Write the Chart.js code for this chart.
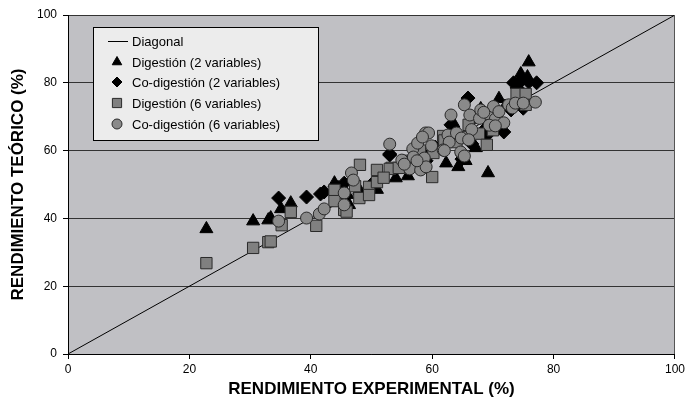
<!DOCTYPE html>
<html>
<head>
<meta charset="utf-8">
<script src="https://cdn.jsdelivr.net/npm/chart.js@4/dist/chart.umd.min.js"></script>
<style>
  html, body { margin: 0; padding: 0; background: #ffffff; }
  #wrap { width: 688px; height: 408px; position: relative; }
</style>
</head>
<body>
<div id="wrap"><canvas id="c" width="688" height="408"></canvas></div>
<script>
// ---- Data ----
const seriesNames = ['Diagonal', 'Digestión (2 variables)', 'Co-digestión (2 variables)', 'Digestión (6 variables)', 'Co-digestión (6 variables)'];
const xTicks = [0, 20, 40, 60, 80, 100];
const yTicks = [0, 20, 40, 60, 80, 100];
const xTitle = 'RENDIMIENTO EXPERIMENTAL (%)';
const yTitle = 'RENDIMIENTO TEÓRICO (%)';

const diagonal = [[0, 0], [100, 100]];

const digestion2 = [
  [22.8,36.9],[30.5,39.2],[33,39.5],[33.4,40.1],[35.1,42.8],[36.7,44.5],[43.9,50.4],[46.3,44],
  [48,48.4],[50.9,48.5],[54,51.9],[56,52.5],[58.5,59.5],[62.3,56.3],[64.3,55.2],[65.5,57],
  [67.2,60.8],[69.2,53.4],[68,72.3],[69.3,71],[71,75.3],[74.6,82.6],[75.7,81.7],[75.9,86.1],
  [63.5,68],[66,64],[72,73],[44.5,49],[46,47]
];
const codigestion2 = [
  [34.7,46],[39.3,46.3],[41.6,47.2],[42.2,47.8],[45.5,50.4],[53,58.7],[53,59],[56,55],[58,58],
  [60.5,61],[63.1,67.6],[64.9,57.5],[65.9,75.5],[66.5,62],[68.5,66],[69,64.5],[70,68],[71.8,65.5],
  [71,69],[73.4,80],[74.6,80.5],[75.9,80.2],[77.2,80],[74,78.5],[75,72.5],[73,72],[66.5,69],
  [62,63],[59,57],[50,50],[47,51]
];
const digestion6 = [
  [22.8,26.8],[30.5,31.3],[33,33],[33.4,33.2],[35.2,38],[36.7,41.9],[40.9,37.8],[43.9,48.4],
  [43.9,45.1],[45.5,42.5],[45.9,42],[48,46],[48.1,55.8],[49.6,49.3],[49.6,46.9],[50.9,54.3],
  [50.9,50.7],[53.3,54.9],[53,54.6],[54.5,54.9],[60,52.2],[60.2,59.3],[61.8,64.3],[64,62.5],
  [66,67.6],[67.7,65],[69,61.7],[62,63],[58,60],[56,57],[73.9,76.7],[75.4,76.7],[75.4,73.5],
  [65.5,64],[70,66],[47.3,49.5],[52,52]
];
const codigestion6 = [
  [34.7,39.2],[39.3,40.1],[41.4,41.3],[42.2,42.8],[45.5,47.5],[45.5,44],[46.7,53.4],[47,51.3],
  [53,61.9],[55,57.2],[56.3,54.6],[56.8,60.5],[57.6,62.2],[56.9,58.1],[58.1,54.3],[58.7,57.8],
  [59,55.2],[58.9,65.2],[59.4,65.2],[59.9,61.4],[58.4,64],[62.6,64.6],[62.8,62.5],[61.8,60.2],
  [63.1,70.5],[64.8,59.3],[64,65.2],[64.8,63.7],[65.3,73.5],[66.2,70.5],[66.5,66.2],[66,63.2],
  [64.7,59.6],[65.3,58.4],[67.8,69.5],[68,72],[69.3,70.8],[70.1,73],[70.4,69.3],[71,71.5],
  [71.8,68.2],[72.6,73.5],[73.2,72.6],[73.7,74],[75,74],[77,74.3],[69.4,67.5],[70.4,67.3],
  [68.5,71.3],[62,60],[57.5,57],[55.4,56]
];

const toXY = arr => arr.map(p => ({ x: p[0], y: p[1] }));

// ---- Styles ----
const FONT = '"Liberation Sans", Arial, Helvetica, sans-serif';
const plotBg = '#c0c0c4';

const plotBackground = {
  id: 'plotBackground',
  beforeDraw(chart) {
    const { ctx, chartArea: a } = chart;
    ctx.save();
    ctx.fillStyle = plotBg;
    ctx.fillRect(a.left, a.top, a.right - a.left, a.bottom - a.top);
    ctx.restore();
  },
  afterDatasetsDraw(chart) {
    const { ctx, chartArea: a } = chart;
    ctx.save();
    ctx.strokeStyle = '#555';
    ctx.lineWidth = 1;
    ctx.beginPath();
    ctx.moveTo(Math.round(a.right) - 0.5, a.top);
    ctx.lineTo(Math.round(a.right) - 0.5, a.bottom);
    ctx.stroke();
    ctx.restore();
  }
};

function legendMarker(ctx, ds, x, y) {
  ctx.save();
  ctx.fillStyle = ds.backgroundColor;
  ctx.strokeStyle = ds.borderColor;
  ctx.lineWidth = ds.borderWidth;
  Chart.helpers.drawPoint(ctx, { pointStyle: ds.pointStyle, radius: ds.legendRadius, borderWidth: ds.borderWidth, rotation: 0 }, x, y);
  ctx.restore();
}

const legendBox = {
  id: 'legendBox',
  afterDraw(chart) {
    const { ctx } = chart;
    const x0 = 93, y0 = 27, w = 225, h = 113;
    ctx.save();
    ctx.fillStyle = '#ececec';
    ctx.fillRect(x0, y0, w, h);
    ctx.strokeStyle = '#000';
    ctx.lineWidth = 1;
    ctx.strokeRect(x0 + 0.5, y0 + 0.5, w, h);
    const rowY = [41, 62, 82, 103, 124];
    const symX = 117, textX = 132;
    ctx.font = '13px ' + FONT;
    ctx.textBaseline = 'middle';
    ctx.textAlign = 'left';
    for (let i = 0; i < seriesNames.length; i++) {
      const y = rowY[i];
      const ds = chart.data.datasets[i];
      if (i === 0) {
        ctx.strokeStyle = '#000';
        ctx.lineWidth = 1;
        ctx.beginPath();
        ctx.moveTo(108, y + 0.5);
        ctx.lineTo(128, y + 0.5);
        ctx.stroke();
      } else {
        legendMarker(ctx, ds, symX, y);
      }
      ctx.fillStyle = '#000';
      ctx.fillText(seriesNames[i], textX, y + 1);
    }
    ctx.restore();
  }
};

const ctx = document.getElementById('c').getContext('2d');
new Chart(ctx, {
  type: 'scatter',
  data: {
    datasets: [
      { label: seriesNames[0], data: toXY(diagonal), type: 'line', showLine: true, borderColor: '#000', borderWidth: 1,
        pointRadius: 0, fill: false, order: 5, backgroundColor: '#000', pointStyle: 'line', legendRadius: 0 },
      { label: seriesNames[1], data: toXY(digestion2), pointStyle: 'triangle', pointRadius: 7.5, backgroundColor: '#000',
        borderColor: '#000', borderWidth: 1, order: 4, legendRadius: 5.5 },
      { label: seriesNames[2], data: toXY(codigestion2), pointStyle: 'rectRot', pointRadius: 7, backgroundColor: '#000',
        borderColor: '#000', borderWidth: 1, order: 3, legendRadius: 5 },
      { label: seriesNames[3], data: toXY(digestion6), pointStyle: 'rect', pointRadius: 8, backgroundColor: '#808080',
        borderColor: '#2a2a2a', borderWidth: 1, order: 2, legendRadius: 6.5 },
      { label: seriesNames[4], data: toXY(codigestion6), pointStyle: 'circle', pointRadius: 6, backgroundColor: '#8a8a8a',
        borderColor: '#2a2a2a', borderWidth: 1, order: 1, legendRadius: 5 }
    ]
  },
  options: {
    responsive: false,
    animation: false,
    layout: { padding: { top: 15, right: 7, left: 0, bottom: 0 } },
    plugins: { legend: { display: false }, tooltip: { enabled: false } },
    elements: { point: { hoverRadius: 6 } },
    scales: {
      x: {
        type: 'linear', min: 0, max: 100,
        afterBuildTicks: s => { s.ticks = xTicks.map(v => ({ value: v })); },
        afterFit: s => { s.height = 54; },
        ticks: { color: '#000', font: { family: FONT, size: 12 }, padding: 3, maxRotation: 0 },
        grid: { drawOnChartArea: false, drawTicks: true, tickLength: 5, tickColor: '#000' },
        border: { display: true, color: '#000', width: 1 },
        title: { display: true, text: xTitle, color: '#000', font: { family: FONT, size: 17, weight: 'bold' }, padding: { top: 0, bottom: 8 } }
      },
      y: {
        type: 'linear', min: 0, max: 100,
        afterBuildTicks: s => { s.ticks = yTicks.map(v => ({ value: v })); },
        afterFit: s => { s.width = 68; },
        ticks: { color: '#000', font: { family: FONT, size: 12 }, padding: 6 },
        grid: { color: '#333', lineWidth: 1, drawTicks: true, tickLength: 5, tickColor: '#000' },
        border: { display: true, color: '#000', width: 1 },
        title: { display: true, text: yTitle, color: '#000', font: { family: FONT, size: 17, weight: 'bold' }, padding: { top: 8, bottom: 0 } }
      }
    }
  },
  plugins: [plotBackground, legendBox]
});
</script>
</body>
</html>
